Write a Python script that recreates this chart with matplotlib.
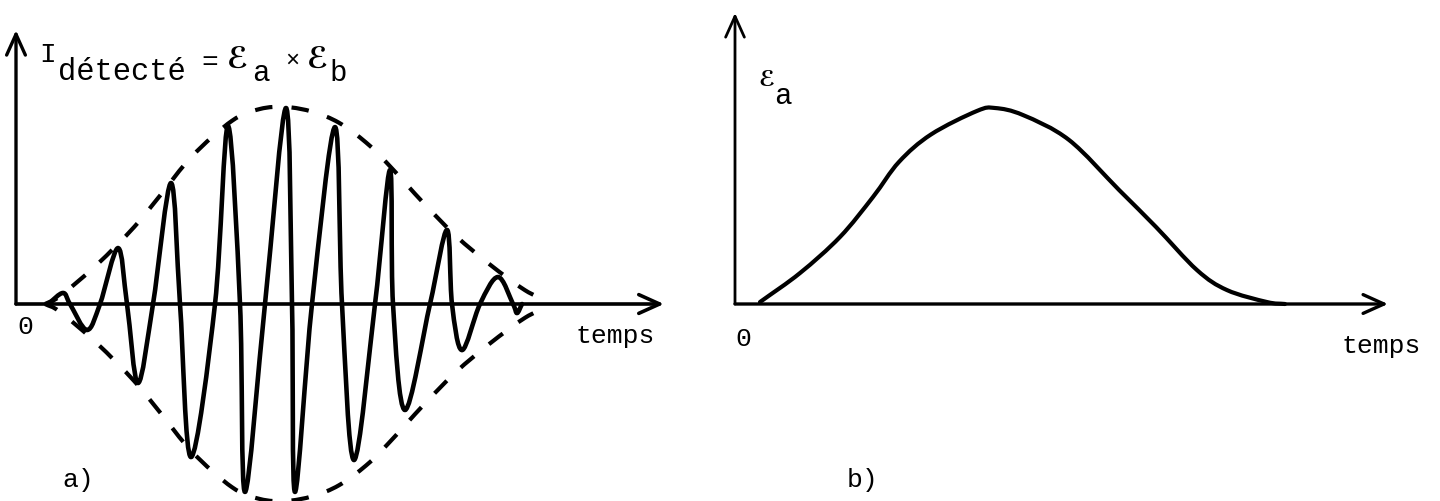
import numpy as np
import matplotlib
matplotlib.use("Agg")
import matplotlib.pyplot as plt
from matplotlib.path import Path
from matplotlib.patches import PathPatch

# ---------------- data ----------------
# a) detected signal: alternating zero crossings / extrema (time, amplitude)
wave_t = [3.2, 4.7, 5.4, 7.1, 8.4, 10.2, 11.1, 12.2, 13.7, 15.5, 16.4, 17.5,
          19.9, 21.2, 22.4, 22.9, 24.9, 27.0, 27.6, 27.9, 29.6, 31.9, 32.6,
          33.8, 35.9, 37.4, 37.7, 38.9, 41.4, 43.1, 43.6, 44.6, 46.4, 48.2,
          49.7, 50.1, 50.6]
wave_a = [0.0, 0.056, 0.0, -0.132, 0.0, 0.284, 0.0, -0.401, 0.0, 0.614, 0.0,
          -0.777, 0.0, 0.904, 0.0, -0.954, 0.0, 0.995, 0.0, -0.954, 0.0, 0.898,
          0.0, -0.792, 0.0, 0.680, 0.0, -0.538, 0.0, 0.376, 0.0, -0.234, 0.0,
          0.137, 0.0, -0.046, 0.0]

# a) dashed envelope (time, amplitude)
env_t = [2.9, 4.4, 8.1, 11.8, 14.4, 17.6, 21.6, 24.4, 27.0, 29.7, 32.3, 35.0,
         37.2, 40.8, 44.0, 47.4, 50.9, 53.2]
env_a = [0.0, 0.04, 0.20, 0.39, 0.55, 0.75, 0.93, 0.99, 1.0, 0.975, 0.92,
         0.82, 0.71, 0.51, 0.345, 0.20, 0.07, 0.015]

# b) field envelope E_a (time, amplitude)
ea_t = [2.5, 6.5, 10.5, 13.8, 16.4, 19.6, 24.2, 26.0, 28.8, 33.4, 38.4, 42.1,
        46.2, 49.2, 53.2, 55.0]
ea_a = [0.01, 0.158, 0.342, 0.546, 0.725, 0.865, 0.985, 1.0, 0.964, 0.837,
        0.582, 0.393, 0.173, 0.071, 0.01, 0.0]

# axes extents (time, amplitude)
axisL_tmax, axisL_amax = 64.8, 1.39
axisR_tmax, axisR_amax = 65.3, 1.485

# texts
title_I = "I"
title_sub = "détecté"
label_time = "temps"
label_zero = "0"
panel_a = "a)"
panel_b = "b)"
script_E = "\u2130"

W, H = 1440, 501
fig = plt.figure(figsize=(W / 100, H / 100), dpi=100)
fig.patch.set_facecolor("white")

axL = fig.add_axes([0, 0, 0.5, 1])
axL.set_xlim(-1.6, 70.4)
axL.set_ylim(-197 / 197, 304 / 197)
axL.axis("off")

axR = fig.add_axes([0.5, 0, 0.5, 1])
axR.set_xlim(-1.5, 70.5)
axR.set_ylim(-197 / 196, 304 / 196)
axR.axis("off")


def smooth_path(xs, ys, flat=None):
    P = np.column_stack([xs, ys]).astype(float)
    n = len(P)
    T = np.zeros_like(P)
    for i in range(n):
        a = P[max(i - 1, 0)]
        b = P[min(i + 1, n - 1)]
        T[i] = (b - a) / (2 if 0 < i < n - 1 else 1)
        if flat is not None and flat[i]:
            T[i, 1] = 0.0
    verts = [P[0]]
    codes = [Path.MOVETO]
    for i in range(n - 1):
        verts += [P[i] + T[i] / 3, P[i + 1] - T[i + 1] / 3, P[i + 1]]
        codes += [Path.CURVE4] * 3
    return Path(np.array(verts), codes)


def arrow(ax, x0, y0, x1, y1, lw):
    ax.annotate("", xy=(x1, y1), xytext=(x0, y0),
                arrowprops=dict(arrowstyle="->,head_length=1.0,head_width=0.45",
                                lw=lw, color="black", shrinkA=0, shrinkB=0,
                                mutation_scale=15, capstyle="round",
                                joinstyle="round"))

# ---------------- panel a ----------------
arrow(axL, 0, 0, 0, axisL_amax, 2.4)
arrow(axL, 0, 0, axisL_tmax, 0, 2.6)

flat = [abs(v) > 0 for v in wave_a]
axL.add_patch(PathPatch(smooth_path(wave_t, wave_a, flat), fill=False,
                        lw=3.3, color="black", capstyle="round", joinstyle="round"))
for sgn in (1, -1):
    axL.add_patch(PathPatch(smooth_path(env_t, [sgn * v for v in env_a]),
                            fill=False, lw=3.0, color="black",
                            linestyle=(1, (4.2, 4.6)), capstyle="butt"))

# ---------------- panel b ----------------
arrow(axR, 0, 0, 0, axisR_amax, 2.0)
arrow(axR, 0, 0, axisR_tmax, 0, 2.4)
axR.add_patch(PathPatch(smooth_path(ea_t, ea_a), fill=False, lw=3.0,
                        color="black", capstyle="round", joinstyle="round"))

# ---------------- texts (typewriter style) ----------------
mono = ["Liberation Mono", "DejaVu Sans"]
scr = ["DejaVu Sans"]


def txt(x, y, s, size, ha="left", va="baseline", family=mono, weight="normal"):
    fig.text(x / W, 1 - y / H, s, fontsize=size, family=family, ha=ha, va=va,
             color="black", fontweight=weight)


txt(48, 62, title_I, 20, ha="center")
txt(58, 80, title_sub, 22)
txt(210, 70, "=", 20, ha="center")
txt(238, 69, script_E, 21, ha="center", family=scr, weight="bold")
txt(252, 81, "a", 21)
txt(292, 67, "\u00d7", 17, ha="center")
txt(318, 69, script_E, 21, ha="center", family=scr, weight="bold")
txt(329, 81, "b", 21)

txt(767, 86, script_E, 16, ha="center", family=scr, weight="bold")
txt(774, 104, "a", 21)

txt(25, 334, label_zero, 19, ha="center")
txt(576, 343, label_time, 19)
txt(743, 346, label_zero, 19, ha="center")
txt(1342, 353, label_time, 19)
txt(62, 487, panel_a, 19)
txt(847, 487, panel_b, 19)

fig.savefig("out.png", dpi=100, facecolor="white")
